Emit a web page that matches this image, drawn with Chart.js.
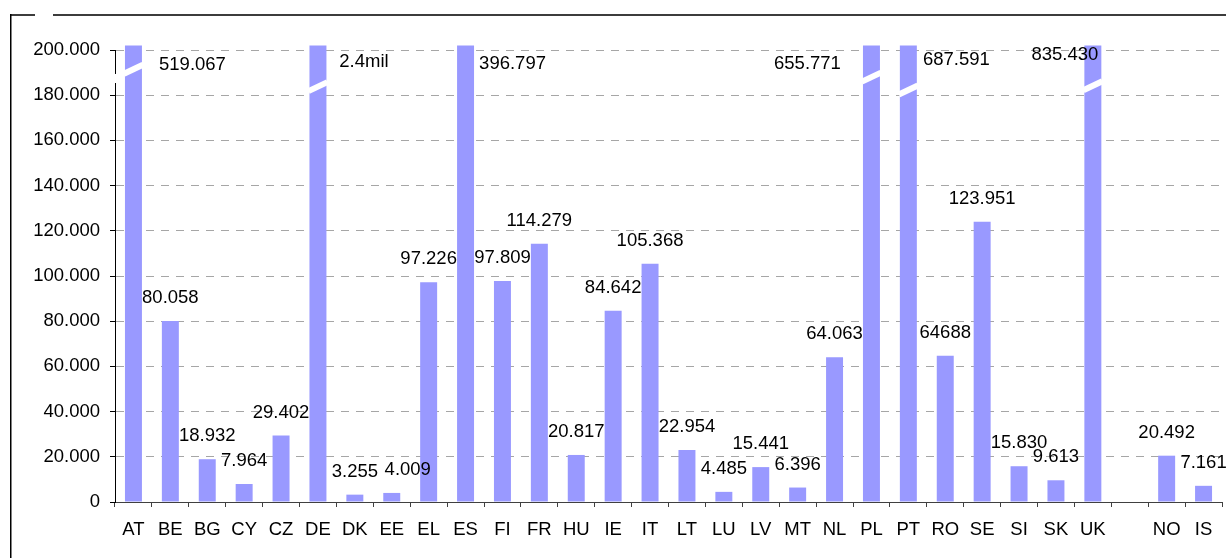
<!DOCTYPE html>
<html>
<head>
<meta charset="utf-8">
<script src="https://cdn.jsdelivr.net/npm/chart.js@4/dist/chart.umd.min.js"></script>
<style>
  html, body { margin:0; padding:0; background:#fff; }
  canvas { display:block; }
</style>
</head>
<body>
<canvas id="chart" width="1226" height="558"></canvas>
<script>
// === DATA ===
const categories = ['AT','BE','BG','CY','CZ','DE','DK','EE','EL','ES','FI','FR','HU','IE','IT','LT','LU','LV','MT','NL','PL','PT','RO','SE','SI','SK','UK','','NO','IS'];
const values = [519067, 80058, 18932, 7964, 29402, 2400000, 3255, 4009, 97226, 396797, 97809, 114279, 20817, 84642, 105368, 22954, 4485, 15441, 6396, 64063, 655771, 687591, 64688, 123951, 15830, 9613, 835430, null, 20492, 7161];
const valueLabels = ['519.067','80.058','18.932','7.964','29.402','2.4mil','3.255','4.009','97.226','396.797','97.809','114.279','20.817','84.642','105.368','22.954','4.485','15.441','6.396','64.063','655.771','687.591','64688','123.951','15.830','9.613','835.430','','20.492','7.161'];
const yMax = 200000;
const yStep = 20000;
// bars cut by the axis break, and where the white slash sits
const breakAt = { AT:191500, DE:183800, PL:188000, PT:182300, UK:184200 };

// label nudges [dx, dy] from the bar top (clipped bars: from the axis top)
const labelNudge = { AT:[59,15], DE:[46,12], ES:[47,14], PL:[-64,14], PT:[48,10], UK:[-28,5], EE:[16,-23] };
const FONT = { family:'"Liberation Sans", Arial, sans-serif', size:18.5 };

const plotted = values.map(v => v == null ? null : Math.min(v, yMax * 1.01));

function fmt(v){
    return String(v).replace(/\B(?=(\d{3})+(?!\d))/g, '.');
}

// === PLUGIN: frame, breaks, labels ===
const decor = {
    id:'decor',
    beforeDraw(chart){
        const ctx = chart.ctx;
        ctx.save();
        ctx.fillStyle = '#fff';
        ctx.fillRect(0,0,chart.width,chart.height);
        ctx.strokeStyle = '#3c3c3c';
        ctx.lineWidth = 2;
        ctx.beginPath();
        ctx.moveTo(10,15); ctx.lineTo(35,15);
        ctx.moveTo(53,15); ctx.lineTo(chart.width,15);
        ctx.stroke();
        ctx.strokeStyle = '#000';
        ctx.lineWidth = 1.5;
        ctx.beginPath();
        ctx.moveTo(10.75,14); ctx.lineTo(10.75,chart.height);
        ctx.stroke();
        ctx.restore();
    },
    afterDraw(chart){
        const ctx = chart.ctx;
        const y = chart.scales.y;
        const meta = chart.getDatasetMeta(0);
        ctx.save();
        // axis break on the y axis
        ctx.fillStyle = '#fff';
        const ya = y.getPixelForValue(189400), yb = y.getPixelForValue(185400);
        ctx.fillRect(chart.chartArea.left-2, ya, 4, yb-ya);
        // slashes on clipped bars
        ctx.strokeStyle = '#fff';
        ctx.lineWidth = 6;
        meta.data.forEach((bar, i) => {
            const b = breakAt[categories[i]];
            if(b === undefined) return;
            const yc = y.getPixelForValue(b);
            const half = bar.width/2;
            ctx.beginPath();
            ctx.moveTo(bar.x-half-1, yc+4.5);
            ctx.lineTo(bar.x+half+1, yc-4.5);
            ctx.stroke();
        });
        // value labels
        ctx.fillStyle = '#000';
        ctx.font = `${FONT.size}px ${FONT.family}`;
        ctx.textAlign = 'center';
        ctx.textBaseline = 'middle';
        meta.data.forEach((bar, i) => {
            if(values[i] == null) return;
            const clipped = values[i] > yMax;
            const top = clipped ? y.getPixelForValue(yMax) : bar.y;
            const n = labelNudge[categories[i]] || [0,-23];
            ctx.fillText(valueLabels[i], bar.x + n[0], top + n[1]);
        });
        ctx.restore();
    }
};

// === CHART ===
new Chart(document.getElementById('chart'), {
    type:'bar',
    data:{
        labels:categories,
        datasets:[{ data:plotted, backgroundColor:'#9999ff', borderWidth:0,
            categoryPercentage:1, barPercentage:0.46, clip:false }]
    },
    options:{
        responsive:false,
        animation:false,
        layout:{ padding:{ left:0, top:50, right:4, bottom:0 } },
        plugins:{ legend:{display:false}, tooltip:{enabled:false} },
        scales:{
            x:{
                offset:true,
                grid:{ offset:true, drawOnChartArea:false, drawTicks:true, tickLength:5, tickColor:'#404040' },
                border:{ color:'#404040', width:1 },
                ticks:{ color:'#000', font:FONT, padding:12, autoSkip:false, maxRotation:0 },
                afterFit(s){ s.height = 56; }
            },
            y:{
                min:0, max:yMax,
                grid:{
                    color:ctx => ctx.tick && ctx.tick.value === 0 ? 'rgba(0,0,0,0)' : '#a6a6a6',
                    tickColor:'#000', tickLength:5, tickBorderDash:[]
                },
                border:{ color:'#000', width:1, dash:[8,7] },
                ticks:{ stepSize:yStep, color:'#000', font:FONT, padding:10, callback:v => fmt(v) },
                afterFit(s){ s.width = 115; }
            }
        }
    },
    plugins:[decor]
});
</script>
</body>
</html>
